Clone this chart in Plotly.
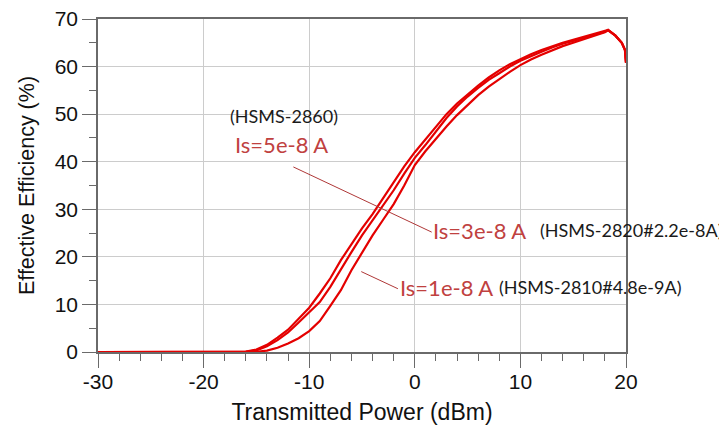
import plotly.graph_objects as go

# ---- data ----
power_dbm = [-30, -17, -16, -15, -14, -13, -12, -11, -10, -9, -8, -7, -6, -5, -4, -3, -2, -1,
             0, 1, 2, 3, 4, 5, 6, 7, 8, 9, 10, 11, 12, 13, 14, 15, 16, 17, 18, 18.3, 19, 19.6, 19.9, 20]

eff_is_5e8 = [0, 0, 0.1, 0.5, 1.5, 3.0, 4.7, 7.0, 9.3, 12.3, 15.5, 19.3, 22.7, 26.0, 29.0, 32.3, 35.7, 39.0,
              42.0, 44.6, 47.3, 50.0, 52.2, 54.2, 56.0, 57.7, 59.2, 60.5, 61.6, 62.6, 63.5, 64.3, 65.0, 65.6, 66.2, 66.8, 67.4, 67.7, 66.5, 65.0, 63.5, 60.8]

eff_is_3e8 = [0, 0, 0.05, 0.35, 1.2, 2.5, 4.1, 6.2, 8.3, 10.5, 13.7, 17.5, 21.0, 24.5, 27.6, 30.7, 34.0, 37.5,
              40.8, 43.5, 46.3, 49.2, 51.6, 53.7, 55.5, 57.2, 58.6, 60.0, 61.2, 62.2, 63.1, 64.0, 64.8, 65.4, 66.0, 66.7, 67.3, 67.7, 66.5, 65.0, 63.5, 60.8]

eff_is_1e8 = [0, 0, 0, 0.05, 0.3, 0.9, 1.8, 2.9, 4.4, 6.5, 9.7, 13.0, 17.2, 21.0, 24.5, 27.8, 31.1, 35.0,
              39.3, 42.2, 44.9, 47.4, 49.8, 52.0, 54.0, 55.8, 57.4, 58.9, 60.3, 61.5, 62.5, 63.4, 64.3, 65.0, 65.8, 66.5, 67.2, 67.6, 66.5, 65.0, 63.5, 60.8]

x_tick_vals = [-30, -20, -10, 0, 10, 20]
x_tick_text = ["-30", "-20", "-10", "0", "10", "20"]
y_tick_vals = [0, 10, 20, 30, 40, 50, 60, 70]
y_tick_text = ["0", "10", "20", "30", "40", "50", "60", "70"]

x_title = "Transmitted Power (dBm)"
y_title = "Effective Efficiency (%)"

series = [("Is=5e-8 A", eff_is_5e8), ("Is=3e-8 A", eff_is_3e8), ("Is=1e-8 A", eff_is_1e8)]

# ---- figure ----
RED = "rgb(228,0,0)"
LABEL_RED = "#c0413f"
PTR = "rgb(175,55,55)"
AX = "#6a6a6a"
GRID = "#cccccc"
LBL_FONT = "Lato, 'Noto Sans', sans-serif"
AX_FONT = "Liberation Sans, Arial, sans-serif"

fig = go.Figure()
for name, ys in series:
    fig.add_trace(go.Scatter(x=power_dbm, y=ys, mode="lines", name=name,
                             line=dict(color=RED, width=2.2), showlegend=False))

axis_common = dict(
    automargin=False,
    showline=True, linecolor=AX, linewidth=1.5, mirror=True,
    showgrid=True, gridcolor=GRID, gridwidth=1,
    ticks="outside", ticklen=14, tickwidth=1.2, tickcolor=AX,
    zeroline=False, ticklabeloverflow="allow",
    tickfont=dict(family=AX_FONT, size=21, color="#111"),
)

fig.update_layout(
    width=719, height=428,
    margin=dict(l=90, r=101, t=11, b=84),
    plot_bgcolor="white", paper_bgcolor="white",
    xaxis=dict(range=[-30, 20], tickvals=x_tick_vals, ticktext=x_tick_text,
               title=dict(text=x_title, standoff=12, font=dict(family=AX_FONT, size=23, color="#111")),
               ticklabelstandoff=-4,
               minor=dict(dtick=2, ticks="outside", ticklen=7, tickcolor=AX, showgrid=False),
               **axis_common),
    yaxis=dict(range=[0, 70], tickvals=y_tick_vals, ticktext=y_tick_text,
               title=dict(text=y_title, standoff=14, font=dict(family=AX_FONT, size=21.5, color="#111")),
               minor=dict(dtick=5, ticks="outside", ticklen=7, tickcolor=AX, showgrid=False),
               **axis_common),
)

# pointer lines
fig.add_shape(type="line", xref="x", yref="y", x0=-11.5, y0=38.9, x1=1.6, y1=25.2,
              line=dict(color=PTR, width=1))
fig.add_shape(type="line", xref="x", yref="y", x0=-5.07, y0=16.9, x1=-1.6, y1=13.3,
              line=dict(color=PTR, width=1))

def label(text, x, y, color, size):
    fig.add_annotation(x=x, y=y, xref="x", yref="y", text=text, showarrow=False,
                       xanchor="left", yanchor="middle",
                       font=dict(family=LBL_FONT, size=size, color=color))

label("(HSMS-2860)", -17.66, 49.6, "#1a1a1a", 18)
label("Is=5e-8 A", -17.2, 43.6, LABEL_RED, 22)
label("Is=3e-8 A", 1.56, 25.5, LABEL_RED, 22)
label("(HSMS-2820#2.2e-8A)", 11.7, 25.6, "#1a1a1a", 18)
label("Is=1e-8 A", -1.56, 13.6, LABEL_RED, 22)
label("(HSMS-2810#4.8e-9A)", 7.8, 13.6, "#1a1a1a", 18)

fig.write_html("out.html")
